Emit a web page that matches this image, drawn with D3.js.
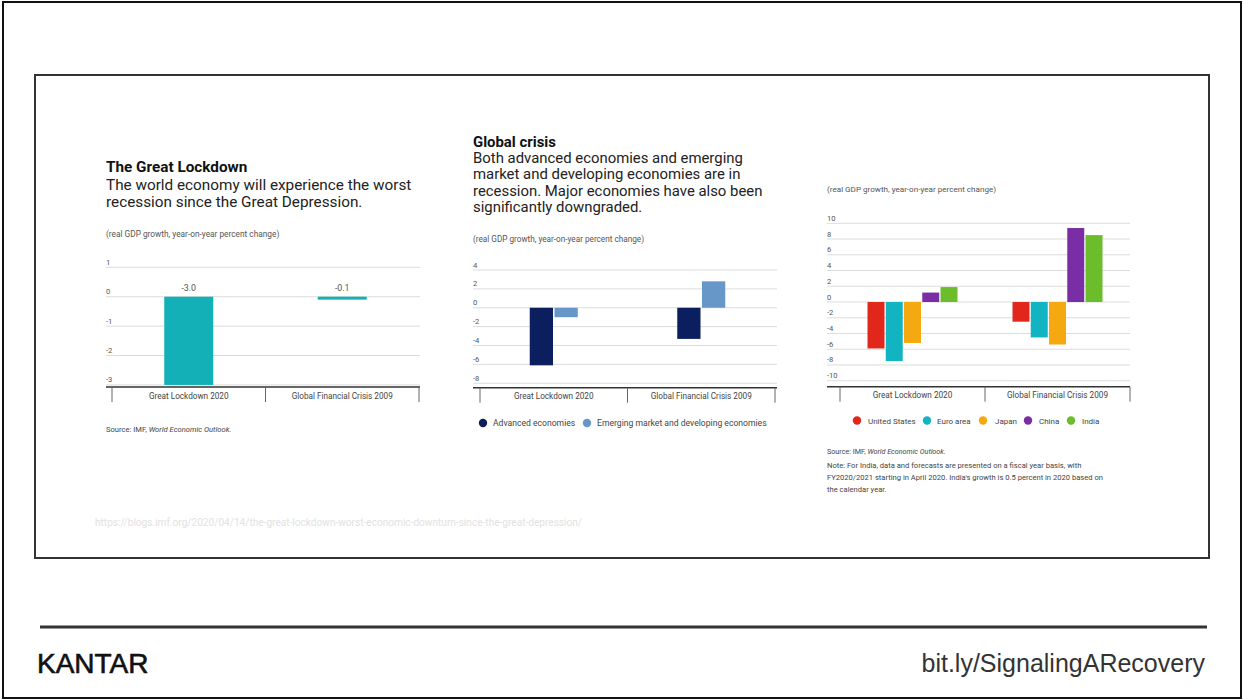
<!DOCTYPE html>
<html><head><meta charset="utf-8">
<script src="https://cdn.jsdelivr.net/npm/d3@7"></script>
<style>
html,body{margin:0;padding:0;background:#fff;}
svg{display:block;font-family:Roboto,"Liberation Sans",sans-serif;}
</style></head>
<body><svg id="c" width="1244" height="700"></svg>
<script>
// ---------- data ----------
const categories = ["Great Lockdown 2020", "Global Financial Crisis 2009"];

const worldSeries = ["World"];
const worldValues = [-3.0, -0.1];
const worldLabels = ["-3.0", "-0.1"];
const worldTicks = [1, 0, -1, -2, -3];

const groupSeries = ["Advanced economies", "Emerging market and developing economies"];
const advancedValues = [-6.1, -3.3];
const emergingValues = [-1.0, 2.8];
const groupTicks = [4, 2, 0, -2, -4, -6, -8];

const countrySeries = ["United States", "Euro area", "Japan", "China", "India"];
const usValues = [-5.9, -2.5];
const euroValues = [-7.5, -4.5];
const japanValues = [-5.2, -5.4];
const chinaValues = [1.2, 9.4];
const indiaValues = [1.9, 8.5];
const countryTicks = [10, 8, 6, 4, 2, 0, -2, -4, -6, -8, -10];

const unitLabel = "(real GDP growth, year-on-year percent change)";

// ---------- drawing ----------
const svg = d3.select("#c");

// frames
svg.append("rect").attr("x", 3).attr("y", 2).attr("width", 1238).attr("height", 696)
  .attr("fill", "none").attr("stroke", "#111").attr("stroke-width", 2);
svg.append("rect").attr("x", 35).attr("y", 75).attr("width", 1174).attr("height", 483)
  .attr("fill", "none").attr("stroke", "#333").attr("stroke-width", 2);
svg.append("line").attr("x1", 40).attr("x2", 1207).attr("y1", 627).attr("y2", 627)
  .attr("stroke", "#333").attr("stroke-width", 3);

svg.append("text").attr("x", 37).attr("y", 673).attr("font-family", "'Liberation Sans',Arial,sans-serif")
  .attr("font-size", 28).attr("fill", "#111").attr("stroke", "#111").attr("stroke-width", 0.6).text("KANTAR");
svg.append("text").attr("x", 1205).attr("y", 672).attr("text-anchor", "end")
  .attr("font-family", "'Liberation Sans',Arial,sans-serif").attr("font-size", 25).attr("fill", "#333")
  .text("bit.ly/SignalingARecovery");

svg.append("text").attr("x", 95).attr("y", 526).attr("font-size", 10.1).attr("fill", "#e2e2e2")
  .text("https://blogs.imf.org/2020/04/14/the-great-lockdown-worst-economic-downturn-since-the-great-depression/");

function textLines(x, y0, lh, lines, size, weight, color) {
  lines.forEach((t, i) => svg.append("text").attr("x", x).attr("y", y0 + i * lh)
    .attr("font-size", size).attr("font-weight", weight).attr("fill", color).text(t));
}

function drawChart(cfg) {
  const g = svg.append("g");
  const y = d3.scaleLinear().domain(cfg.domain).range(cfg.yRange);
  const x = d3.scaleBand().domain(categories).range([cfg.axisX0, cfg.axisX1]);
  const sub = d3.scaleBand().domain(cfg.series).range([-cfg.groupW / 2, cfg.groupW / 2]).paddingInner(cfg.subPad);

  // gridlines
  g.selectAll(".grid").data(cfg.ticks).join("line")
    .attr("x1", cfg.gridX0).attr("x2", cfg.gridX1)
    .attr("y1", d => y(d)).attr("y2", d => y(d))
    .attr("stroke", "#dcdcdc").attr("stroke-width", 1);
  g.selectAll(".tl").data(cfg.ticks).join("text")
    .attr("x", cfg.gridX0).attr("y", d => y(d) - 2.5)
    .attr("font-size", 7.6).attr("fill", "#555").text(d => d);

  // bars
  cfg.series.forEach((s, si) => {
    g.selectAll(null).data(cfg.values[si]).join("rect")
      .attr("x", (d, i) => x(categories[i]) + x.bandwidth() / 2 + sub(s))
      .attr("width", sub.bandwidth())
      .attr("y", d => y(Math.max(0, d)))
      .attr("height", d => Math.abs(y(d) - y(0)))
      .attr("fill", cfg.colors[si]);
  });

  // bottom axis
  const ay = y(cfg.domain[0]);
  g.append("line").attr("x1", cfg.gridX0).attr("x2", cfg.gridX1).attr("y1", ay).attr("y2", ay)
    .attr("stroke", "#333").attr("stroke-width", 1.5);
  const tickXs = [cfg.axisX0, x(categories[1]), cfg.axisX1];
  g.selectAll(".vt").data(tickXs).join("line")
    .attr("x1", d => d).attr("x2", d => d).attr("y1", ay).attr("y2", ay + 15)
    .attr("stroke", "#666").attr("stroke-width", 1);
  g.selectAll(".cl").data(categories).join("text")
    .attr("x", d => x(d) + x.bandwidth() / 2).attr("y", ay + 11.5)
    .attr("text-anchor", "middle").attr("font-size", 8.2).attr("fill", "#444").text(d => d);
  return { x, y, sub };
}

// ---- chart 1 ----
textLines(106, 172, 16, ["The Great Lockdown"], 15.3, 700, "#111");
textLines(106, 190, 16.5, ["The world economy will experience the worst", "recession since the Great Depression."], 15.3, 400, "#222");
svg.append("text").attr("x", 106).attr("y", 237).attr("font-size", 8.3).attr("fill", "#555").text(unitLabel);
const c1 = drawChart({
  domain: [-3.07, 1], yRange: [387, 267.3], ticks: worldTicks,
  gridX0: 106, gridX1: 420, axisX0: 112, axisX1: 419,
  series: worldSeries, values: [worldValues], colors: ["#13b0b7"], groupW: 49, subPad: 0
});
svg.selectAll(null).data(worldValues).join("text")
  .attr("x", (d, i) => c1.x(categories[i]) + c1.x.bandwidth() / 2).attr("y", 290.5)
  .attr("text-anchor", "middle").attr("font-size", 8.8).attr("fill", "#555").text((d, i) => worldLabels[i]);
const src1 = svg.append("text").attr("x", 106).attr("y", 432).attr("font-size", 7.6).attr("fill", "#444");
src1.append("tspan").text("Source: IMF, ");
src1.append("tspan").attr("font-style", "italic").text("World Economic Outlook.");

// ---- chart 2 ----
textLines(473, 146.5, 16, ["Global crisis"], 14.9, 700, "#111");
textLines(473, 163, 16.3, ["Both advanced economies and emerging", "market and developing economies are in",
  "recession. Major economies have also been", "significantly downgraded."], 14.9, 400, "#222");
svg.append("text").attr("x", 473).attr("y", 241.5).attr("font-size", 8.2).attr("fill", "#555").text(unitLabel);
drawChart({
  domain: [-8.47, 4], yRange: [387.7, 270], ticks: groupTicks,
  gridX0: 473, gridX1: 777, axisX0: 480, axisX1: 775,
  series: groupSeries, values: [advancedValues, emergingValues], colors: ["#0b1f5e", "#6796c8"], groupW: 48, subPad: 0.06
});
const leg2 = [[483, 493], [587, 597]];
groupSeries.forEach((s, i) => {
  svg.append("circle").attr("cx", leg2[i][0]).attr("cy", 423).attr("r", 4.2).attr("fill", ["#0b1f5e", "#6796c8"][i]);
  svg.append("text").attr("x", leg2[i][1]).attr("y", 426).attr("font-size", 8.6).attr("fill", "#444").text(s);
});

// ---- chart 3 ----
svg.append("text").attr("x", 827).attr("y", 192).attr("font-size", 8.1).attr("fill", "#555").text(unitLabel);
const countryColors = ["#e1261c", "#12b4c1", "#f6a811", "#7a2ea6", "#6bbd2b"];
drawChart({
  domain: [-10.76, 10], yRange: [386.7, 223.3], ticks: countryTicks,
  gridX0: 827, gridX1: 1130, axisX0: 840, axisX1: 1130,
  series: countrySeries, values: [usValues, euroValues, japanValues, chinaValues, indiaValues],
  colors: countryColors, groupW: 90, subPad: 0.07
});
const leg3 = [[857, 868], [927, 937], [983, 995], [1028, 1039], [1071, 1082]];
countrySeries.forEach((s, i) => {
  svg.append("circle").attr("cx", leg3[i][0]).attr("cy", 420.5).attr("r", 4.2).attr("fill", countryColors[i]);
  svg.append("text").attr("x", leg3[i][1]).attr("y", 423.5).attr("font-size", 8).attr("fill", "#444").text(s);
});
const src3 = svg.append("text").attr("x", 827).attr("y", 454).attr("font-size", 7.2).attr("fill", "#444");
src3.append("tspan").text("Source: IMF, ");
src3.append("tspan").attr("font-style", "italic").text("World Economic Outlook.");
textLines(827, 467.5, 12, ["Note: For India, data and forecasts are presented on a fiscal year basis, with",
  "FY2020/2021 starting in April 2020. India's growth is 0.5 percent in 2020 based on",
  "the calendar year."], 7.6, 400, "#444");
</script></body></html>
